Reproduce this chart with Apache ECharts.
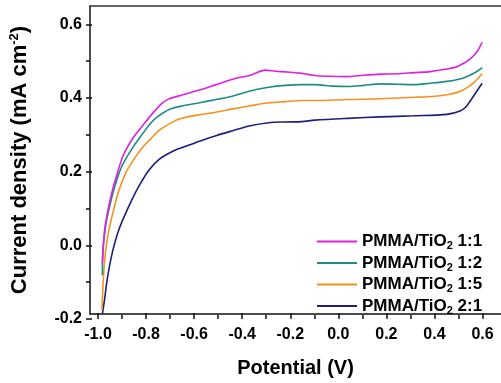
<!DOCTYPE html>
<html>
<head>
<meta charset="utf-8">
<script src="https://cdn.jsdelivr.net/npm/echarts@6/dist/echarts.min.js"></script>
<style>html,body{margin:0;padding:0;background:#fff;}#c{width:501px;height:383px;}</style>
</head>
<body>
<div id="c"></div>
<script>
// Series names
const seriesNames = ['PMMA/TiO2 1:1', 'PMMA/TiO2 1:2', 'PMMA/TiO2 1:5', 'PMMA/TiO2 2:1'];
// [potential (V), current density (mA cm-2)]
const pmma11 = [[-0.998,-0.06],[-0.989,0.03],[-0.975,0.085],[-0.96,0.13],[-0.94,0.178],[-0.91,0.238],[-0.87,0.285],[-0.826,0.322],[-0.785,0.355],[-0.75,0.38],[-0.72,0.393],[-0.66,0.405],[-0.59,0.418],[-0.52,0.433],[-0.44,0.45],[-0.38,0.458],[-0.313,0.473],[-0.27,0.47],[-0.22,0.468],[-0.16,0.464],[-0.105,0.458],[-0.05,0.456],[0.03,0.455],[0.1,0.459],[0.17,0.462],[0.24,0.463],[0.31,0.466],[0.38,0.469],[0.45,0.476],[0.49,0.482],[0.52,0.492],[0.545,0.503],[0.565,0.515],[0.58,0.528],[0.598,0.55]];
const pmma12 = [[-0.998,-0.093],[-0.996,-0.03],[-0.982,0.052],[-0.954,0.133],[-0.935,0.175],[-0.913,0.212],[-0.87,0.26],[-0.826,0.3],[-0.8,0.323],[-0.771,0.342],[-0.715,0.365],[-0.65,0.376],[-0.59,0.383],[-0.52,0.392],[-0.452,0.401],[-0.382,0.415],[-0.299,0.426],[-0.23,0.431],[-0.161,0.433],[-0.105,0.433],[-0.03,0.429],[0.034,0.428],[0.1,0.431],[0.172,0.435],[0.24,0.434],[0.311,0.433],[0.38,0.437],[0.45,0.442],[0.5,0.448],[0.533,0.455],[0.565,0.465],[0.598,0.48]];
const pmma15 = [[-1.0,-0.19],[-0.996,-0.13],[-0.989,-0.057],[-0.975,0.016],[-0.954,0.079],[-0.93,0.138],[-0.913,0.168],[-0.896,0.195],[-0.857,0.235],[-0.826,0.262],[-0.8,0.28],[-0.757,0.308],[-0.7,0.331],[-0.66,0.341],[-0.59,0.35],[-0.521,0.357],[-0.45,0.366],[-0.382,0.374],[-0.299,0.383],[-0.23,0.386],[-0.161,0.389],[-0.105,0.389],[0.034,0.392],[0.172,0.394],[0.311,0.398],[0.4,0.401],[0.45,0.405],[0.5,0.413],[0.533,0.424],[0.565,0.44],[0.598,0.464]];
const pmma21 = [[-0.998,-0.2],[-0.99,-0.166],[-0.977,-0.102],[-0.956,-0.03],[-0.928,0.034],[-0.887,0.097],[-0.845,0.152],[-0.801,0.198],[-0.757,0.228],[-0.7,0.25],[-0.66,0.26],[-0.59,0.277],[-0.521,0.292],[-0.45,0.306],[-0.382,0.319],[-0.299,0.328],[-0.23,0.33],[-0.161,0.331],[-0.105,0.335],[0.034,0.34],[0.172,0.344],[0.311,0.347],[0.45,0.351],[0.505,0.36],[0.53,0.372],[0.547,0.387],[0.57,0.41],[0.598,0.437]];
// Tick ranges: [first, last, step]
const xMajor = [-1.0, 0.6, 0.2];
const xMinor = [-0.9, 0.5, 0.2];
const yMajor = [-0.2, 0.6, 0.2];
const yMinor = [-0.1, 0.5, 0.2];

const colors = ['#E020E0', '#1F8C84', '#F5921E', '#1E1E7A'];
const FONT = '"Liberation Sans", Arial, sans-serif';
const axisColor = '#111';

const chart = echarts.init(document.getElementById('c'), null, {renderer: 'canvas'});
const datasets = [pmma11, pmma12, pmma15, pmma21];

// Plot box range
const X_MIN = -1.05, X_MAX = 0.677, Y_MIN = -0.2, Y_MAX = 0.65;
const G = {left: 86, top: 6, right: 0, bottom: 64};
const CW = 501, CH = 383;
const W = CW - G.left - G.right, H = CH - G.top - G.bottom;
const px = v => G.left + (v - X_MIN) / (X_MAX - X_MIN) * W;
const py = v => G.top + (Y_MAX - v) / (Y_MAX - Y_MIN) * H;

// grids used only for tick placement, aligned to the plot box
const gx = r => ({left: px(r[0]), right: CW - px(r[1]), top: G.top, bottom: G.bottom});
const gy = r => ({left: G.left, right: G.right, top: py(r[1]), bottom: CH - py(r[0])});

const tickLine = {color: axisColor, width: 1.5};
const labelStyle = {fontSize: 16, fontWeight: 'bold', fontFamily: FONT, color: '#000'};

chart.setOption({
  animation: false,
  backgroundColor: '#fff',
  grid: [
    {left: G.left, top: G.top, right: G.right, bottom: G.bottom},
    gx(xMajor), gx(xMinor), gy(yMajor), gy(yMinor)
  ],
  legend: {
    orient: 'vertical',
    left: 312, top: 228,
    itemWidth: 40, itemHeight: 12, itemGap: 3,
    icon: 'path://M0,5 L40,5 L40,7 L0,7 Z',
    data: seriesNames,
    formatter: function (n) {
      const parts = n.split('TiO2');
      return '{a|' + parts[0] + 'TiO}{s|2}{a|' + parts[1] + '}';
    },
    textStyle: {
      fontFamily: FONT, color: '#000',
      rich: {
        a: {fontSize: 17, fontWeight: 'bold', fontFamily: FONT, color: '#000', lineHeight: 20},
        s: {fontSize: 11, fontWeight: 'bold', fontFamily: FONT, color: '#000', lineHeight: 20, verticalAlign: 'bottom', padding: [6, 0, 0, 0]}
      }
    }
  },
  xAxis: [
    {
      type: 'value', gridIndex: 0, position: 'bottom', min: X_MIN, max: X_MAX,
      splitLine: {show: false},
      name: 'Potential (V)', nameLocation: 'middle', nameGap: 44,
      nameTextStyle: {fontSize: 20, fontWeight: 'bold', fontFamily: FONT, color: '#000'},
      axisLine: {show: true, onZero: false, lineStyle: tickLine},
      axisTick: {show: false}, axisLabel: {show: false}
    },
    {
      type: 'value', gridIndex: 0, position: 'top', min: X_MIN, max: X_MAX,
      splitLine: {show: false},
      axisLine: {show: true, onZero: false, lineStyle: {color: '#333', width: 1.5}},
      axisTick: {show: false}, axisLabel: {show: false}
    },
    {
      type: 'value', gridIndex: 1, position: 'bottom', min: xMajor[0], max: xMajor[1], interval: xMajor[2],
      splitLine: {show: false},
      axisLine: {show: false, onZero: false},
      axisTick: {show: true, inside: true, length: 6, lineStyle: tickLine},
      axisLabel: Object.assign({show: true, margin: 8, formatter: v => v.toFixed(1)}, labelStyle)
    },
    {
      type: 'value', gridIndex: 2, position: 'bottom', min: xMinor[0], max: xMinor[1], interval: xMinor[2],
      splitLine: {show: false},
      axisLine: {show: false, onZero: false},
      axisTick: {show: true, inside: true, length: 4, lineStyle: tickLine},
      axisLabel: {show: false}
    },
    {type: 'value', gridIndex: 3, show: false},
    {type: 'value', gridIndex: 4, show: false}
  ],
  yAxis: [
    {
      type: 'value', gridIndex: 0, position: 'left', min: Y_MIN, max: Y_MAX,
      splitLine: {show: false},
      name: 'Current density (mA cm{sup|-2})', nameLocation: 'middle', nameGap: 59, nameRotate: 90,
      nameTextStyle: {fontSize: 22, fontWeight: 'bold', fontFamily: FONT, color: '#000',
        rich: {sup: {fontSize: 13, fontWeight: 'bold', fontFamily: FONT, color: '#000', verticalAlign: 'top', padding: [0, 0, 10, 0]}}},
      axisLine: {show: true, onZero: false, lineStyle: tickLine},
      axisTick: {show: false}, axisLabel: {show: false}
    },
    {type: 'value', gridIndex: 1, show: false},
    {type: 'value', gridIndex: 2, show: false},
    {
      type: 'value', gridIndex: 3, position: 'left', min: yMajor[0], max: yMajor[1], interval: yMajor[2],
      splitLine: {show: false},
      axisLine: {show: false, onZero: false},
      axisTick: {show: true, inside: true, length: 6, lineStyle: tickLine},
      axisLabel: Object.assign({show: true, margin: 4, formatter: v => v.toFixed(1)}, labelStyle)
    },
    {
      type: 'value', gridIndex: 4, position: 'left', min: yMinor[0], max: yMinor[1], interval: yMinor[2],
      splitLine: {show: false},
      axisLine: {show: false, onZero: false},
      axisTick: {show: true, inside: true, length: 4, lineStyle: tickLine},
      axisLabel: {show: false}
    }
  ],
  series: seriesNames.map((n, i) => ({
    name: n,
    type: 'line',
    xAxisIndex: 0, yAxisIndex: 0,
    data: datasets[i],
    smooth: 0.3,
    symbol: 'none',
    color: colors[i],
    lineStyle: {color: colors[i], width: 1.6},
    z: 10 - i
  }))
});
</script>
</body>
</html>
